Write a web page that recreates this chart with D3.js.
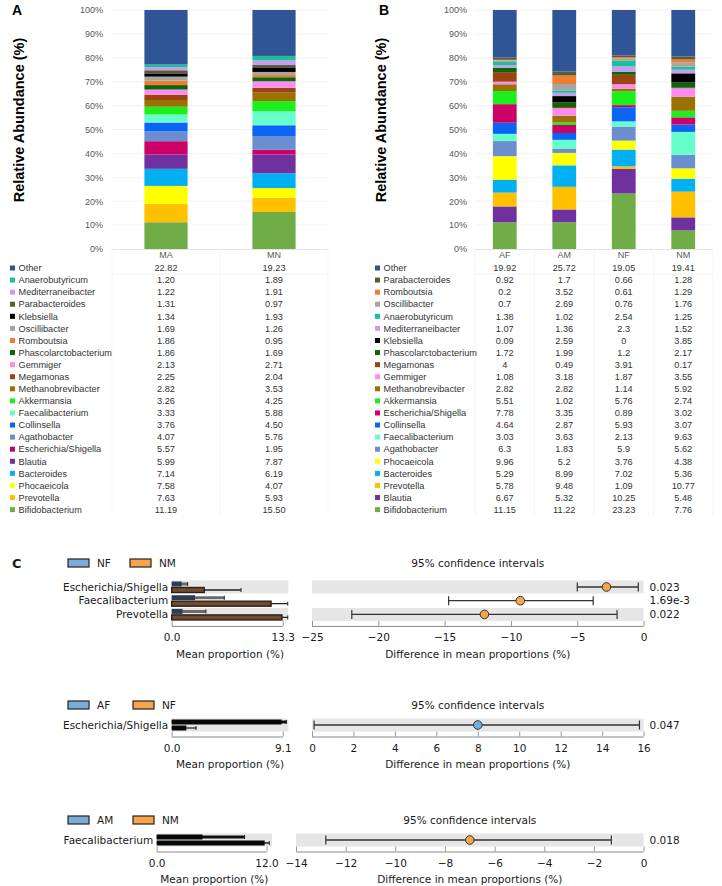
<!DOCTYPE html>
<html>
<head>
<meta charset="utf-8">
<script src="https://cdn.jsdelivr.net/npm/d3@7"></script>
<style>
  body { margin: 0; background: #fff; }
  svg { display: block; font-family: "Liberation Sans", Arial, sans-serif; }
  .stamp text { font-family: "DejaVu Sans", sans-serif; fill: #1a1a1a; }
</style>
</head>
<body>
<div id="chart"></div>
<script>
const FRAME_WIDTH = 722;
const FRAME_HEIGHT = 886;

// ---- panel A : MA / MN ----
const GROUPS_A = ["MA", "MN"];
const TAXA_A = ["Other", "Anaerobutyricum", "Mediterraneibacter", "Parabacteroides", "Klebsiella",
  "Oscillibacter", "Romboutsia", "Phascolarctobacterium", "Gemmiger", "Megamonas",
  "Methanobrevibacter", "Akkermansia", "Faecalibacterium", "Collinsella", "Agathobacter",
  "Escherichia/Shigella", "Blautia", "Bacteroides", "Phocaeicola", "Prevotella", "Bifidobacterium"];
const MA = [22.82, 1.20, 1.22, 1.31, 1.34, 1.69, 1.86, 1.86, 2.13, 2.25, 2.82, 3.26, 3.33, 3.76, 4.07, 5.57, 5.99, 7.14, 7.58, 7.63, 11.19];
const MN = [19.23, 1.89, 1.91, 0.97, 1.93, 1.26, 0.95, 1.69, 2.71, 2.04, 3.53, 4.25, 5.88, 4.50, 5.76, 1.95, 7.87, 6.19, 4.07, 5.93, 15.50];

// ---- panel B : AF / AM / NF / NM ----
const GROUPS_B = ["AF", "AM", "NF", "NM"];
const TAXA_B = ["Other", "Parabacteroides", "Romboutsia", "Oscillibacter", "Anaerobutyricum",
  "Mediterraneibacter", "Klebsiella", "Phascolarctobacterium", "Megamonas", "Gemmiger",
  "Methanobrevibacter", "Akkermansia", "Escherichia/Shigella", "Collinsella", "Faecalibacterium",
  "Agathobacter", "Phocaeicola", "Bacteroides", "Prevotella", "Blautia", "Bifidobacterium"];
const AF = [19.92, 0.92, 0.2, 0.7, 1.38, 1.07, 0.09, 1.72, 4, 1.08, 2.82, 5.51, 7.78, 4.64, 3.03, 6.3, 9.96, 5.29, 5.78, 6.67, 11.15];
const AM = [25.72, 1.7, 3.52, 2.69, 1.02, 1.36, 2.59, 1.99, 0.49, 3.18, 2.82, 1.02, 3.35, 2.87, 3.63, 1.83, 5.2, 8.99, 9.48, 5.32, 11.22];
const NF = [19.05, 0.66, 0.61, 0.76, 2.54, 2.3, 0, 1.2, 3.91, 1.87, 1.14, 5.76, 0.89, 5.93, 2.13, 5.9, 3.76, 7.02, 1.09, 10.25, 23.23];
const NM = [19.41, 1.28, 1.29, 1.76, 1.25, 1.52, 3.85, 2.17, 0.17, 3.55, 5.92, 2.74, 3.02, 3.07, 9.63, 5.62, 4.38, 5.36, 10.77, 5.48, 7.76];

const Y_TICKS = [0, 10, 20, 30, 40, 50, 60, 70, 80, 90, 100];

// ---- panel C : extended error bar comparisons ----
const C1_FEATURES = ["Escherichia/Shigella", "Faecalibacterium", "Prevotella"];
const C1_GROUPS = ["NF", "NM"];
const C1_MEAN_1 = [1.2, 2.8, 1.3];
const C1_ERR_1 = [1.9, 6.3, 4.1];
const C1_MEAN_2 = [3.9, 11.9, 13.2];
const C1_ERR_2 = [8.3, 13.9, 13.9];
const C1_DIFF = [-2.8, -9.3, -12.0];
const C1_LO = [-5.0, -14.7, -22.0];
const C1_HI = [-0.4, -3.8, -2.0];
const C1_P = ["0.023", "1.69e-3", "0.022"];
const C1_MAX = 13.3;
const C1_DIFF_TICKS = [-25, -20, -15, -10, -5, 0];

const C2_FEATURES = ["Escherichia/Shigella"];
const C2_GROUPS = ["AF", "NF"];
const C2_MEAN_1 = [9.0];
const C2_ERR_1 = [9.4];
const C2_MEAN_2 = [1.2];
const C2_ERR_2 = [2.0];
const C2_DIFF = [8.0];
const C2_LO = [0.1];
const C2_HI = [15.8];
const C2_P = ["0.047"];
const C2_MAX = 9.1;
const C2_DIFF_TICKS = [0, 2, 4, 6, 8, 10, 12, 14, 16];

const C3_FEATURES = ["Faecalibacterium"];
const C3_GROUPS = ["AM", "NM"];
const C3_MEAN_1 = [5.0];
const C3_ERR_1 = [9.6];
const C3_MEAN_2 = [11.8];
const C3_ERR_2 = [12.3];
const C3_DIFF = [-7.0];
const C3_LO = [-12.8];
const C3_HI = [-1.3];
const C3_P = ["0.018"];
const C3_MAX = 12.0;
const C3_DIFF_TICKS = [-14, -12, -10, -8, -6, -4, -2, 0];

// colours for each genus
const TAXON_COLORS = {
  "Other": "#2f5597", "Anaerobutyricum": "#1dbf98", "Mediterraneibacter": "#c79cf2",
  "Parabacteroides": "#5e5a36", "Klebsiella": "#000000", "Oscillibacter": "#a5a5a5",
  "Romboutsia": "#ed7d31", "Phascolarctobacterium": "#0b650b", "Gemmiger": "#fa8cf0",
  "Megamonas": "#9c4410", "Methanobrevibacter": "#9a7204", "Akkermansia": "#1cf01c",
  "Faecalibacterium": "#66ffcc", "Collinsella": "#0a64f5", "Agathobacter": "#6a8ed0",
  "Escherichia/Shigella": "#cc0066", "Blautia": "#7030a0", "Bacteroides": "#00b0f0",
  "Phocaeicola": "#ffff00", "Prevotella": "#ffc000", "Bifidobacterium": "#70ad47"
};
const BLUE = "#79acd9";
const ORANGE = "#f7a54c";

const SVG = d3.select("#chart")
  .append("svg")
    .attr("width", FRAME_WIDTH)
    .attr("height", FRAME_HEIGHT);

const ROW_TOP = 268;
const ROW_H = 12.08;

// stacked bar + data table (panels A and B)
function drawStacked(opts) {
  const g = SVG.append("g");
  const rows = opts.groups.map((grp, gi) => {
    const r = { group: grp };
    opts.taxa.forEach((t, ti) => { r[t] = opts.values[gi][ti]; });
    return r;
  });
  const keys = opts.taxa.slice().reverse();
  const series = d3.stack().keys(keys)(rows);

  const X = d3.scaleBand()
    .domain(opts.groups)
    .range(opts.xRange)
    .paddingInner(0.6)
    .paddingOuter(0.3);
  const Y = d3.scaleLinear().domain([0, 100]).range([249, 10]).clamp(true);

  // faint gridlines
  g.selectAll(".grid")
    .data(Y_TICKS.slice(1))
    .enter()
    .append("line")
      .attr("x1", opts.xRange[0]).attr("x2", opts.xRange[1])
      .attr("y1", d => Y(d)).attr("y2", d => Y(d))
      .attr("stroke", "#f3f3f3");

  const yAxis = g.append("g")
    .attr("transform", "translate(" + opts.axisX + ",0)")
    .call(d3.axisLeft(Y).tickValues(Y_TICKS).tickFormat(d => d + "%").tickSize(0).tickPadding(0));
  yAxis.select(".domain").remove();
  yAxis.selectAll("text")
    .attr("font-family", "'Liberation Sans', Arial, sans-serif")
    .attr("font-size", "9px")
    .attr("fill", "#595959");

  g.append("text")
    .attr("transform", "translate(" + opts.titleX + ",120) rotate(-90)")
    .attr("text-anchor", "middle")
    .attr("dy", "0.35em")
    .attr("font-size", "14.5px")
    .attr("font-weight", "bold")
    .attr("fill", "#000")
    .text("Relative Abundance (%)");

  g.append("text")
    .attr("x", opts.letterX).attr("y", 15)
    .attr("font-size", "14px").attr("font-weight", "bold")
    .text(opts.letter);

  // stacked segments
  g.selectAll(".layer")
    .data(series)
    .enter()
    .append("g")
      .attr("fill", d => TAXON_COLORS[d.key])
    .selectAll("rect")
    .data(d => d)
    .enter()
    .append("rect")
      .attr("x", d => X(d.data.group))
      .attr("y", d => Y(d[1]))
      .attr("width", X.bandwidth())
      .attr("height", d => Math.max(0, Y(d[0]) - Y(d[1])));

  // table frame (very faint, like the Excel data table)
  const tableBottom = ROW_TOP + ROW_H * (opts.taxa.length - 0.5);
  g.append("line")
    .attr("x1", opts.xRange[0]).attr("x2", opts.xRange[1])
    .attr("y1", 249.5).attr("y2", 249.5)
    .attr("stroke", "#e3e3e3");
  const edges = [opts.xRange[0]].concat(opts.groups.map(d => X(d) + X.bandwidth() / 2 + X.step() / 2));
  g.selectAll(".vsep")
    .data(edges)
    .enter()
    .append("line")
      .attr("x1", d => d).attr("x2", d => d)
      .attr("y1", 249.5).attr("y2", tableBottom)
      .attr("stroke", "#f5f5f5");
  g.append("line")
    .attr("x1", opts.xRange[0]).attr("x2", opts.xRange[1])
    .attr("y1", ROW_TOP + ROW_H * 0.5).attr("y2", ROW_TOP + ROW_H * 0.5)
    .attr("stroke", "#f2f2f2");

  // header
  g.selectAll(".head")
    .data(opts.groups)
    .enter()
    .append("text")
      .attr("x", d => X(d) + X.bandwidth() / 2)
      .attr("y", 255)
      .attr("dy", "0.35em")
      .attr("text-anchor", "middle")
      .attr("font-size", "9px")
      .attr("fill", "#595959")
      .text(d => d);

  // table rows
  const row = g.selectAll(".row")
    .data(opts.taxa)
    .enter()
    .append("g")
      .attr("transform", (d, i) => "translate(0," + (ROW_TOP + i * ROW_H) + ")");
  row.append("rect")
    .attr("x", opts.legendX).attr("y", -2.5)
    .attr("width", 5).attr("height", 5)
    .attr("fill", d => TAXON_COLORS[d]);
  row.append("text")
    .attr("x", opts.legendX + 8.5)
    .attr("dy", "0.35em")
    .attr("font-size", "9.2px")
    .attr("fill", "#333")
    .text(d => d);
  opts.groups.forEach((grp, gi) => {
    row.append("text")
      .attr("x", X(grp) + X.bandwidth() / 2)
      .attr("dy", "0.35em")
      .attr("text-anchor", "middle")
      .attr("font-size", "9.2px")
      .attr("fill", "#333")
      .text((d, ti) => opts.format(opts.values[gi][ti]));
  });
}

drawStacked({
  taxa: TAXA_A, groups: GROUPS_A, values: [MA, MN],
  xRange: [112, 328], axisX: 103, titleX: 19, letter: "A", letterX: 12, legendX: 10,
  format: d => d.toFixed(2)
});
drawStacked({
  taxa: TAXA_B, groups: GROUPS_B, values: [AF, AM, NF, NM],
  xRange: [475, 713], axisX: 467, titleX: 381, letter: "B", letterX: 379, legendX: 375,
  format: d => String(d)
});

// STAMP-like extended error bar plot
function drawStamp(cfg) {
  const g = SVG.append("g").attr("class", "stamp");
  const step = 13.7, bandH = 13;
  const rowY = i => cfg.rowY0 + i * step;
  const lastY = rowY(cfg.features.length - 1);
  const axisY = lastY + bandH / 2 + 5;

  const XL = d3.scaleLinear().domain([0, cfg.max * 1.05]).range(cfg.left);
  const XR = d3.scaleLinear().domain(d3.extent(cfg.diffTicks)).range(cfg.right);

  if (cfg.letter) {
    g.append("text").attr("x", 12).attr("y", cfg.legendY).attr("dy", "0.35em")
      .attr("font-family", "'Liberation Sans', Arial, sans-serif")
      .attr("font-size", "13px").attr("font-weight", "bold").text(cfg.letter);
  }

  // legend
  const LEG = [{ name: cfg.groups[0], color: BLUE, x: 68 }, { name: cfg.groups[1], color: ORANGE, x: cfg.legend2X }];
  LEG.forEach(l => {
    g.append("rect").attr("x", l.x).attr("y", cfg.legendY - 4).attr("width", 21).attr("height", 8)
      .attr("fill", l.color).attr("stroke", "#222").attr("stroke-width", 1.2);
    g.append("text").attr("x", l.x + 29).attr("y", cfg.legendY).attr("dy", "0.35em")
      .attr("font-size", "10.5px").text(l.name);
  });
  g.append("text")
    .attr("x", (cfg.right[0] + cfg.right[1]) / 2).attr("y", cfg.legendY).attr("dy", "0.35em")
    .attr("text-anchor", "middle").attr("font-size", "10.5px")
    .text("95% confidence intervals");

  // alternating shaded rows
  const shaded = cfg.features.map((f, i) => i).filter(i => i % 2 === 0);
  [cfg.left, cfg.right].forEach(r => {
    g.selectAll(null)
      .data(shaded)
      .enter()
      .append("rect")
        .attr("x", r[0]).attr("width", r[1] - r[0])
        .attr("y", i => rowY(i) - bandH / 2).attr("height", bandH)
        .attr("fill", "#e6e6e6");
  });

  // feature labels
  g.selectAll(".feat")
    .data(cfg.features)
    .enter()
    .append("text")
      .attr("x", cfg.left[0] - 3.5)
      .attr("y", (d, i) => rowY(i))
      .attr("dy", "0.35em")
      .attr("text-anchor", "end")
      .attr("font-size", "10.5px")
      .text(d => d);

  // mean proportion bars
  const bars = [
    { mean: cfg.mean1, err: cfg.err1, y0: -6, fill: cfg.fill1, stroke: cfg.stroke1, ew: cfg.errW1, ec: cfg.errC1 },
    { mean: cfg.mean2, err: cfg.err2, y0: 0, fill: cfg.fill2, stroke: cfg.stroke2, ew: 1.3, ec: "#222" }
  ];
  bars.forEach(b => {
    g.selectAll(null)
      .data(b.mean)
      .enter()
      .append("line")
        .attr("x1", XL(0)).attr("x2", (d, i) => XL(b.err[i]))
        .attr("y1", (d, i) => rowY(i) + b.y0 + 3).attr("y2", (d, i) => rowY(i) + b.y0 + 3)
        .attr("stroke", b.ec).attr("stroke-width", b.ew);
    g.selectAll(null)
      .data(b.err)
      .enter()
      .append("line")
        .attr("x1", d => XL(d)).attr("x2", d => XL(d))
        .attr("y1", (d, i) => rowY(i) + b.y0 + 1).attr("y2", (d, i) => rowY(i) + b.y0 + 5)
        .attr("stroke", "#222").attr("stroke-width", 1);
    g.selectAll(null)
      .data(b.mean)
      .enter()
      .append("rect")
        .attr("x", XL(0))
        .attr("y", (d, i) => rowY(i) + b.y0 + 0.5)
        .attr("width", d => XL(d) - XL(0))
        .attr("height", 5)
        .attr("fill", b.fill)
        .attr("stroke", b.stroke)
        .attr("stroke-width", b.stroke === "none" ? 0 : 1.4);
  });

  // confidence intervals
  const ci = g.selectAll(".ci")
    .data(cfg.diff)
    .enter()
    .append("g");
  ci.append("line")
    .attr("x1", (d, i) => XR(cfg.lo[i])).attr("x2", (d, i) => XR(cfg.hi[i]))
    .attr("y1", (d, i) => rowY(i)).attr("y2", (d, i) => rowY(i))
    .attr("stroke", "#333").attr("stroke-width", 1.3);
  ["lo", "hi"].forEach(k => {
    ci.append("line")
      .attr("x1", (d, i) => XR(cfg[k][i])).attr("x2", (d, i) => XR(cfg[k][i]))
      .attr("y1", (d, i) => rowY(i) - 4.5).attr("y2", (d, i) => rowY(i) + 4.5)
      .attr("stroke", "#333").attr("stroke-width", 1.2);
  });
  ci.append("circle")
    .attr("cx", d => XR(d)).attr("cy", (d, i) => rowY(i)).attr("r", 4.3)
    .attr("fill", d => d > 0 ? BLUE : ORANGE)
    .attr("stroke", "#333").attr("stroke-width", 1);
  ci.append("text")
    .attr("x", cfg.right[1] + 6).attr("y", (d, i) => rowY(i)).attr("dy", "0.35em")
    .attr("font-size", "10.5px")
    .text((d, i) => cfg.p[i]);

  // axes
  const axL = g.append("g")
    .attr("transform", "translate(0," + axisY + ")")
    .call(d3.axisBottom(XL).tickValues([0, cfg.max]).tickFormat(d3.format(".1f")).tickSizeInner(-5).tickSizeOuter(0).tickPadding(8));
  const axR = g.append("g")
    .attr("transform", "translate(0," + axisY + ")")
    .call(d3.axisBottom(XR).tickValues(cfg.diffTicks).tickFormat(d3.format("d")).tickSizeInner(-5).tickSizeOuter(0).tickPadding(8));
  [axL, axR].forEach(a => {
    a.select(".domain").attr("stroke", "#888").attr("d", null);
    a.selectAll(".tick line").attr("stroke", "#999");
    a.selectAll("text").attr("font-size", "10.5px").attr("fill", "#1a1a1a")
      .attr("font-family", "'DejaVu Sans', sans-serif");
  });
  g.append("line").attr("x1", XL(0)).attr("x2", XL(cfg.max))
    .attr("y1", axisY + 0.5).attr("y2", axisY + 0.5).attr("stroke", "#888");
  g.append("line").attr("x1", cfg.right[0]).attr("x2", cfg.right[1])
    .attr("y1", axisY + 0.5).attr("y2", axisY + 0.5).attr("stroke", "#888");

  g.append("text")
    .attr("x", (cfg.left[0] + cfg.left[1]) / 2).attr("y", axisY + 28).attr("dy", "0.35em")
    .attr("text-anchor", "middle").attr("font-size", "10.5px")
    .text("Mean proportion (%)");
  g.append("text")
    .attr("x", (cfg.right[0] + cfg.right[1]) / 2).attr("y", axisY + 28).attr("dy", "0.35em")
    .attr("text-anchor", "middle").attr("font-size", "10.5px")
    .text("Difference in mean proportions (%)");
}

drawStamp({
  letter: "C", legendY: 563, rowY0: 587, legend2X: 130,
  features: C1_FEATURES, groups: C1_GROUPS,
  mean1: C1_MEAN_1, err1: C1_ERR_1, mean2: C1_MEAN_2, err2: C1_ERR_2,
  diff: C1_DIFF, lo: C1_LO, hi: C1_HI, p: C1_P, max: C1_MAX, diffTicks: C1_DIFF_TICKS,
  left: [171.7, 288.3], right: [312, 643.6],
  fill1: "#2d3c55", stroke1: "none", errW1: 3, errC1: "#6a6a6a",
  fill2: "#6e4b31", stroke2: "#2e2018"
});
drawStamp({
  legendY: 705, rowY0: 725, legend2X: 133,
  features: C2_FEATURES, groups: C2_GROUPS,
  mean1: C2_MEAN_1, err1: C2_ERR_1, mean2: C2_MEAN_2, err2: C2_ERR_2,
  diff: C2_DIFF, lo: C2_LO, hi: C2_HI, p: C2_P, max: C2_MAX, diffTicks: C2_DIFF_TICKS,
  left: [171.7, 288.3], right: [312, 643.6],
  fill1: "#080808", stroke1: "none", errW1: 3, errC1: "#111",
  fill2: "#080808", stroke2: "none"
});
drawStamp({
  legendY: 820, rowY0: 840, legend2X: 133,
  features: C3_FEATURES, groups: C3_GROUPS,
  mean1: C3_MEAN_1, err1: C3_ERR_1, mean2: C3_MEAN_2, err2: C3_ERR_2,
  diff: C3_DIFF, lo: C3_LO, hi: C3_HI, p: C3_P, max: C3_MAX, diffTicks: C3_DIFF_TICKS,
  left: [156.7, 272], right: [296, 643.6],
  fill1: "#080808", stroke1: "none", errW1: 3, errC1: "#111",
  fill2: "#080808", stroke2: "none"
});
</script>
</body>
</html>
